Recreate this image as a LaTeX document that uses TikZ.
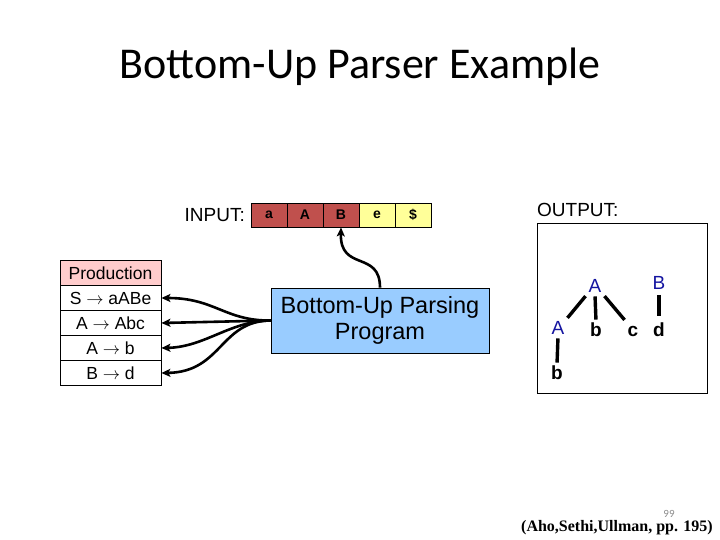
\documentclass[tikz,border=0pt]{standalone}
\usepackage{fontspec}
\setmainfont{Liberation Sans}
\newfontfamily\titlefont{Carlito}
\newfontfamily\refserif{Liberation Serif}
\usetikzlibrary{arrows.meta}
\definecolor{cellred}{RGB}{192,80,77}
\definecolor{cellyellow}{RGB}{255,255,153}
\definecolor{progblue}{RGB}{153,204,255}
\definecolor{prodpink}{RGB}{255,204,204}
\definecolor{treeblue}{RGB}{20,20,160}
\tikzset{
  fs/.style={font=\fontsize{#1}{#1}\selectfont},
  cellbox/.style={draw=black, line width=0.8pt, minimum width=36pt, minimum height=24pt, inner sep=0pt, font=\fontsize{14}{14}\selectfont\bfseries},
  prodbox/.style={draw=black, line width=0.8pt, fill=white, minimum width=101pt, minimum height=25pt, inner sep=0pt, font=\fontsize{17.5}{17.5}\selectfont},
  conn/.style={line width=2.6pt, -{Stealth[length=9pt,width=8pt,inset=2pt]}},
  tnode/.style={font=\fontsize{19}{19}\selectfont\bfseries, inner sep=2pt, text height=13.5pt, text depth=0pt},
  tbnode/.style={tnode, font=\fontsize{19}{19}\selectfont, text=treeblue},
  tedge/.style={line width=3.4pt, shorten <=1.5pt, shorten >=1.5pt},
}
\begin{document}
\begin{tikzpicture}[x=1pt,y=-1pt]
\useasboundingbox (0,0) rectangle (720,540);
% title
\node[anchor=base, font=\titlefont\fontsize{44}{44}\selectfont, inner sep=0pt] (title) at (360,79) {Bottom-Up Parser Example};
% input
\node[anchor=base east, fs=19, inner sep=0pt] (inlabel) at (245,222) {INPUT:};
\node[cellbox, fill=cellred] (c1) at (269,215) {a};
\node[cellbox, fill=cellred] (c2) at (305,215) {A};
\node[cellbox, fill=cellred] (c3) at (341,215) {B};
\node[cellbox, fill=cellyellow] (c4) at (377,215) {e};
\node[cellbox, fill=cellyellow] (c5) at (413,215) {\$};
% program
\node[draw=black, line width=0.8pt, fill=progblue, minimum width=218pt, minimum height=65pt, inner sep=0pt, align=center, font=\fontsize{23.5}{26.5}\selectfont] (prog) at (380,320.5) {Bottom-Up Parsing\\Program};
% production table
\node[prodbox, fill=prodpink] (ph) at (110.5,273) {Production};
\node[prodbox] (p1) at (110.5,298) {S $\rightarrow$ aABe};
\node[prodbox] (p2) at (110.5,323) {A $\rightarrow$ Abc};
\node[prodbox] (p3) at (110.5,348) {A $\rightarrow$ b};
\node[prodbox] (p4) at (110.5,373) {B $\rightarrow$ d};
% connectors
\draw[conn] (prog.north) .. controls (380,250) and (340,272) .. (c3.south);
\draw[conn] (prog.west) .. controls (225,321) and (215,298) .. (p1.east);
\draw[conn] (prog.west) -- (p2.east);
\draw[conn] (prog.west) .. controls (230,321) and (205,347) .. (p3.east);
\draw[conn] (prog.west) .. controls (220,321) and (222,372) .. (p4.east);
% output
\node[anchor=base west, fs=19, inner sep=0pt] (outlabel) at (537,216) {OUTPUT:};
\node[draw=black, line width=0.8pt, minimum width=170pt, minimum height=170pt, inner sep=0pt] (outbox) at (622,308) {};
\node[tbnode] (tA) at (595,286) {A};
\node[tbnode] (tB) at (659,283) {B};
\node[tbnode] (lA) at (558,328) {A};
\node[tnode] (lb) at (596,330) {b};
\node[tnode] (lc) at (633,330) {c};
\node[tnode] (ld) at (659,330) {d};
\node[tnode] (bb) at (557,373) {b};
\draw[tedge] (tA.south west) -- (lA.north east);
\draw[tedge] (tA.south) -- (lb.north);
\draw[tedge] (tA.south east) -- (lc.north west);
\draw[tedge, shorten <=3pt, shorten >=5pt] (tB.south) -- (ld.north);
\draw[tedge] (lA.south) -- (bb.north);
% footer
\node[font=\titlefont\fontsize{11}{11}\selectfont, text=black!45, inner sep=0pt] (pnum) at (669,514) {99};
\node[font=\refserif\fontsize{16}{16}\selectfont\bfseries, inner sep=0pt] (ref) at (617,528) {(Aho,Sethi,Ullman, pp. 195)};
\end{tikzpicture}
\end{document}
